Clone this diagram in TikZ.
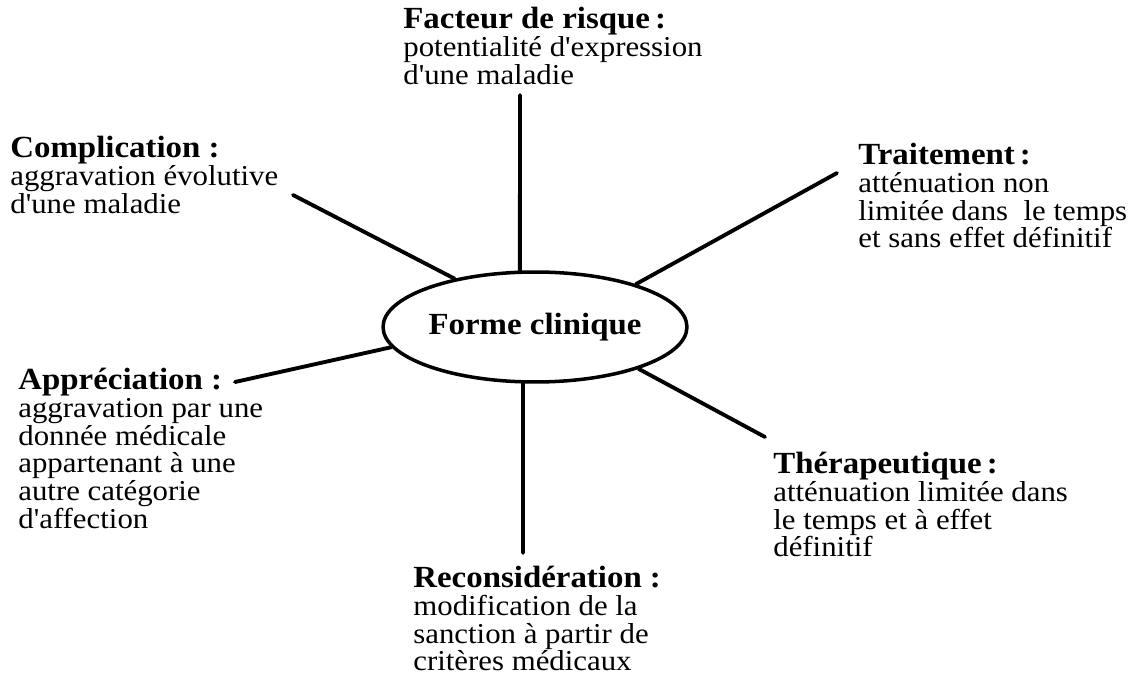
\documentclass[tikz,border=0pt]{standalone}
\usepackage{fontspec}
\setmainfont{Liberation Serif}[FakeStretch=1.07,Ligatures=TeXOff]
\usetikzlibrary{shapes.geometric}

\newcommand{\titre}[1]{\rule{0pt}{13pt}{\bfseries\fontsize{17.5}{15.9}\selectfont #1}}

\tikzset{
  note/.style={anchor=north west, align=left, inner sep=0pt, font=\fontsize{16.4}{15.9}\selectfont},
  spoke/.style={line width=2.2pt, line cap=round},
}

\begin{document}
\begin{tikzpicture}[x=0.02cm, y=-0.02cm]
\useasboundingbox (0,0) rectangle (1144,689);
%\draw[help lines] (0,0) grid (1144,689);
\node[ellipse, draw, line width=2pt, minimum width=6.08cm, minimum height=2.2cm, inner sep=0pt,
      font=\bfseries\fontsize{17.5}{15.9}\selectfont] (fc) at (535,327) {Forme clinique};

\node[note] (facteur) at (403,5) {\titre{Facteur de risque\,:}\\ potentialité d'expression\\ d'une maladie};
\node[note] (complication) at (10,134) {\titre{Complication :}\\ aggravation évolutive\\ d'une maladie};
\node[note] (traitement) at (858,141) {\titre{Traitement\,:}\\ atténuation non\\ limitée dans~ le temps\\ et sans effet définitif};
\node[note] (appreciation) at (18,366) {\titre{Appréciation :}\\ aggravation par une\\ donnée médicale\\ appartenant à une\\ autre catégorie\\ d'affection};
\node[note] (therapeutique) at (773,450) {\titre{Thérapeutique\,:}\\ atténuation limitée dans\\ le temps et à effet\\ définitif};
\node[note] (reconsideration) at (413,564) {\titre{Reconsidération :}\\ modification de la\\ sanction à partir de\\ critères médicaux};

% free ends of the spokes
\coordinate (e-facteur) at (520,95);
\coordinate (e-complication) at (293,195);
\coordinate (e-traitement) at (837,173);
\coordinate (e-appreciation) at (235,382);
\coordinate (e-therapeutique) at (765,437);
\coordinate (e-reconsideration) at (523,553);

\path[spoke]
(fc.105) edge (e-facteur)
(fc.149) edge (e-complication)
(fc.23)  edge (e-traitement)
(fc.188) edge (e-appreciation)
(fc.338) edge (e-therapeutique)
(fc.258) edge (e-reconsideration)
;
\end{tikzpicture}
\end{document}
